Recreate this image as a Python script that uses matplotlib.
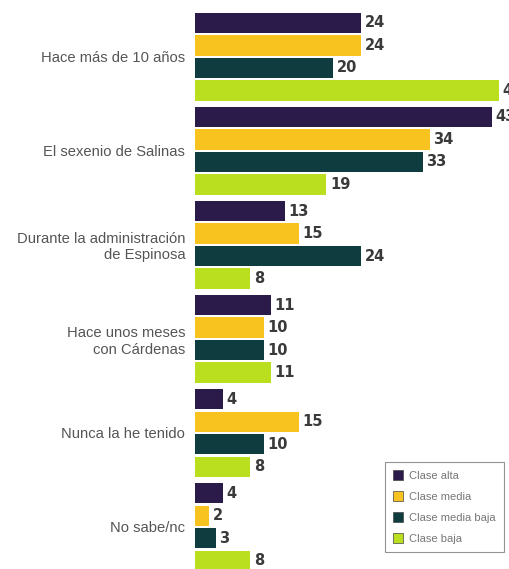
import matplotlib
matplotlib.use("Agg")
import matplotlib.pyplot as plt
from matplotlib.patches import Patch

categories = ["Hace más de 10 años", "El sexenio de Salinas",
              "Durante la administración\nde Espinosa",
              "Hace unos meses\ncon Cárdenas", "Nunca la he tenido", "No sabe/nc"]
series_names = ["Clase alta", "Clase media", "Clase media baja", "Clase baja"]
clase_alta = [24, 43, 13, 11, 4, 4]
clase_media = [24, 34, 15, 10, 15, 2]
clase_media_baja = [20, 33, 24, 10, 10, 3]
clase_baja = [44, 19, 8, 11, 8, 8]
series = [clase_alta, clase_media, clase_media_baja, clase_baja]
colors = ["#2b1b4b", "#f8c31e", "#0f3c3f", "#b9df1e"]

W, H = 510, 569
fig = plt.figure(figsize=(W / 100, H / 100), dpi=100)
fig.patch.set_facecolor("white")
ax = fig.add_axes([195 / W, 0, 1 - 195 / W, 1])

group_pitch = 4.18
bar_h = 0.9
for si, (vals, col) in enumerate(zip(series, colors)):
    ys = [gi * group_pitch + si for gi in range(len(categories))]
    ax.barh(ys, vals, height=bar_h, color=col, edgecolor="none")
    for y, v in zip(ys, vals):
        ax.text(v + 0.55, y, str(v), va="center", ha="left", fontsize=10.5,
                fontweight="bold", color="#3a3a3a", clip_on=False,
                family="DejaVu Sans")

ax.set_xlim(0, (W - 195) / 6.9)
ax.set_ylim(24.27, -1.02)
centers = [gi * group_pitch + 1.5 for gi in range(len(categories))]
ax.set_yticks(centers)
ax.set_yticklabels(categories, fontsize=10.6, color="#555555", family="Liberation Sans",
                   ha="right")
ax.tick_params(axis="y", length=0, pad=7)
ax.set_xticks([])
for s in ax.spines.values():
    s.set_visible(False)

handles = [Patch(facecolor=c, edgecolor="#444444", linewidth=0.5) for c in colors]
leg = fig.legend(handles, series_names, loc="upper left",
                 bbox_to_anchor=(385 / W, 1 - 462 / H),
                 frameon=True, fancybox=False, edgecolor="#777777",
                 handlelength=0.9, handleheight=0.9, handletextpad=0.5,
                 labelspacing=0.95, borderpad=0.75, borderaxespad=0,
                 prop={"family": "Liberation Sans", "size": 8})
for t in leg.get_texts():
    t.set_color("#777777")
leg.get_frame().set_linewidth(0.8)

fig.savefig("out.png", dpi=100, facecolor="white")
